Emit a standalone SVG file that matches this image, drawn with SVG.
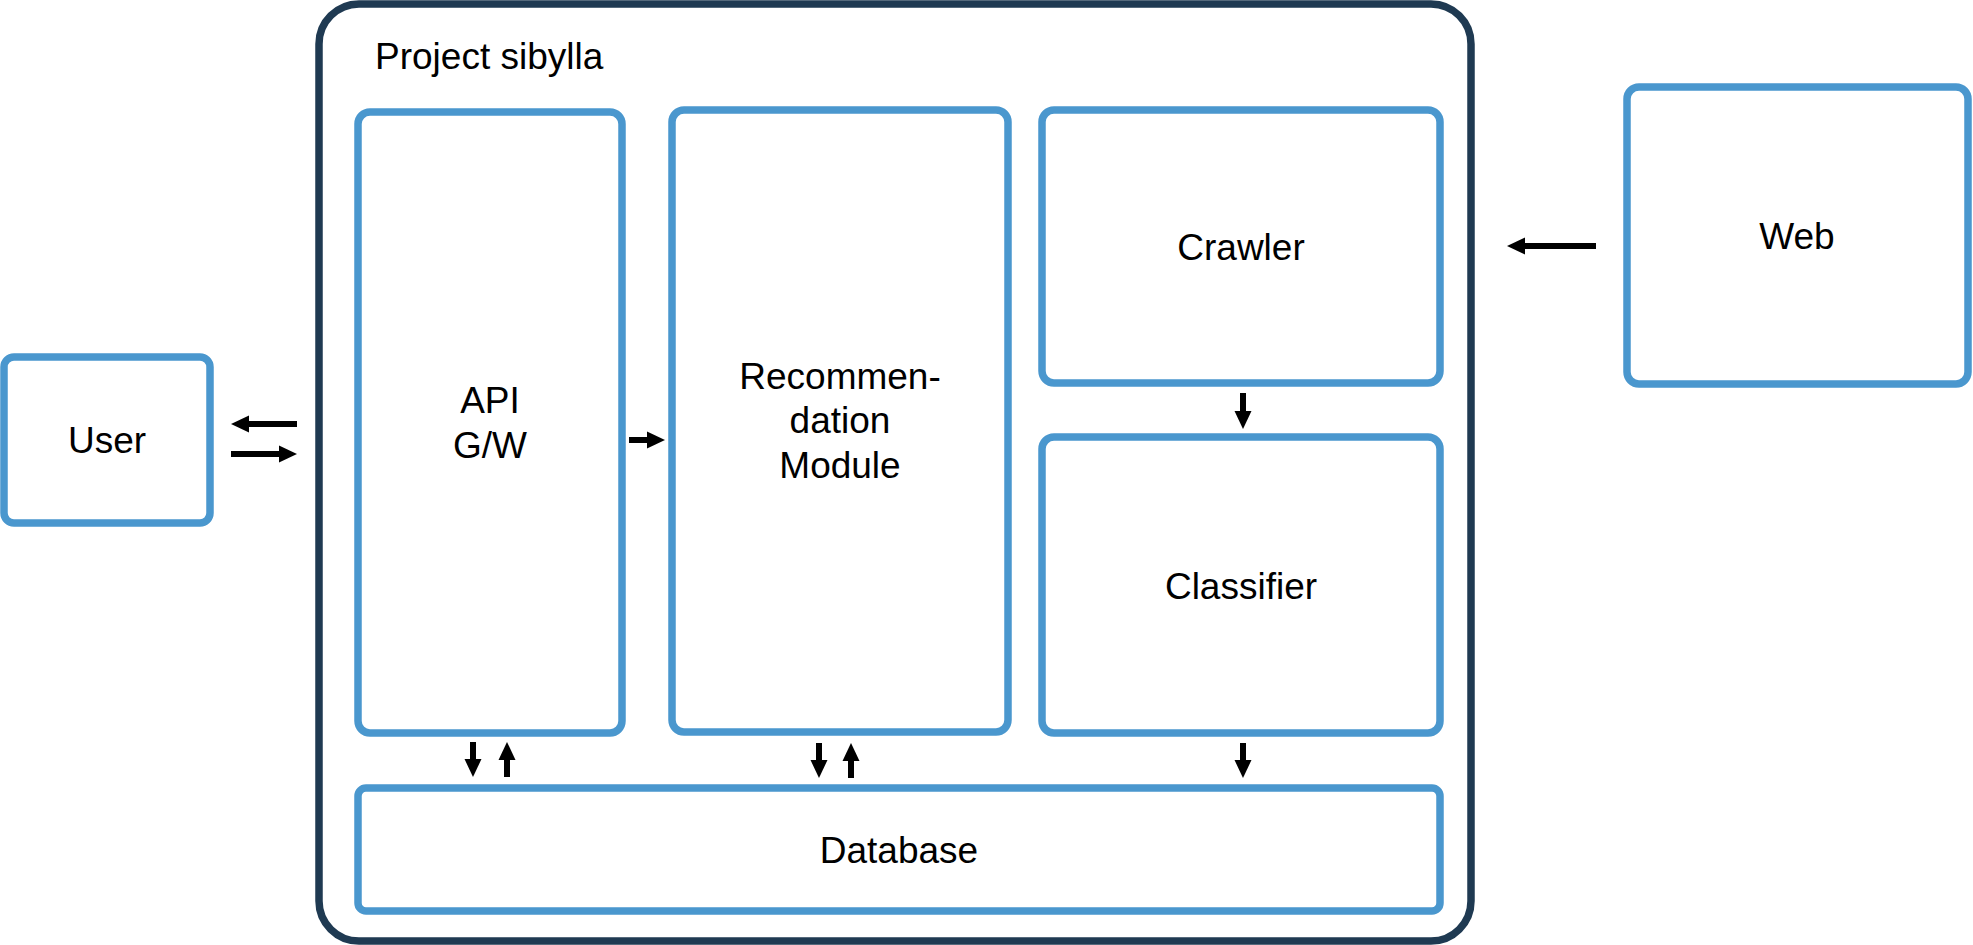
<svg xmlns="http://www.w3.org/2000/svg" width="1973" height="945" viewBox="0 0 1973 945">
<style>
.box{fill:#ffffff;stroke:#4A97CE;stroke-width:7.5}
.outer{fill:#ffffff;stroke:#1F3A52;stroke-width:7.5}
.lbl{font-family:"Liberation Sans",Arial,sans-serif;font-size:37px;fill:#000000;text-anchor:middle}
.ttl{font-family:"Liberation Sans",Arial,sans-serif;font-size:37px;fill:#000000}
.arr{stroke:#000000;stroke-width:6;fill:none;marker-end:url(#ah)}
</style>
<defs>
<marker id="ah" markerUnits="userSpaceOnUse" markerWidth="18" markerHeight="17" refX="0" refY="8.5" orient="auto" overflow="visible">
<path d="M0,0 L18,8.5 L0,17 Z" fill="#000000"/>
</marker>
</defs>
<rect width="1973" height="945" fill="#ffffff"/>
<g id="project">
<rect class="outer" x="319" y="4" width="1152" height="937" rx="40" ry="40"/>
<text class="ttl" x="375" y="69">Project sibylla</text>
</g>
<g id="user">
<rect class="box" x="4" y="357" width="206" height="166" rx="10" ry="10"/>
<text class="lbl" x="107" y="453">User</text>
</g>
<g id="api">
<rect class="box" x="358" y="112" width="264" height="621" rx="12" ry="12"/>
<text class="lbl" x="490" y="413">API</text>
<text class="lbl" x="490" y="458">G/W</text>
</g>
<g id="recommendation">
<rect class="box" x="672" y="110" width="336" height="622" rx="12" ry="12"/>
<text class="lbl" x="840" y="389">Recommen-</text>
<text class="lbl" x="840" y="433">dation</text>
<text class="lbl" x="840" y="478">Module</text>
</g>
<g id="crawler">
<rect class="box" x="1042" y="110" width="398" height="273" rx="12" ry="12"/>
<text class="lbl" x="1241" y="260">Crawler</text>
</g>
<g id="classifier">
<rect class="box" x="1042" y="437" width="398" height="296" rx="12" ry="12"/>
<text class="lbl" x="1241" y="599">Classifier</text>
</g>
<g id="database">
<rect class="box" x="358" y="788" width="1082" height="123" rx="8" ry="8"/>
<text class="lbl" x="899" y="863">Database</text>
</g>
<g id="web">
<rect class="box" x="1627" y="87" width="341" height="297" rx="12" ry="12"/>
<text class="lbl" x="1797" y="249">Web</text>
</g>
<g id="connectors">
<line class="arr" x1="297" y1="424" x2="249" y2="424"/>
<line class="arr" x1="231" y1="454" x2="279" y2="454"/>
<line class="arr" x1="629" y1="440" x2="647" y2="440"/>
<line class="arr" x1="1596" y1="246" x2="1525" y2="246"/>
<line class="arr" x1="1243" y1="393" x2="1243" y2="411"/>
<line class="arr" x1="473" y1="742" x2="473" y2="759"/>
<line class="arr" x1="507" y1="777" x2="507" y2="760"/>
<line class="arr" x1="819" y1="743" x2="819" y2="760"/>
<line class="arr" x1="851" y1="778" x2="851" y2="761"/>
<line class="arr" x1="1243" y1="743" x2="1243" y2="760"/>
</g>
</svg>
